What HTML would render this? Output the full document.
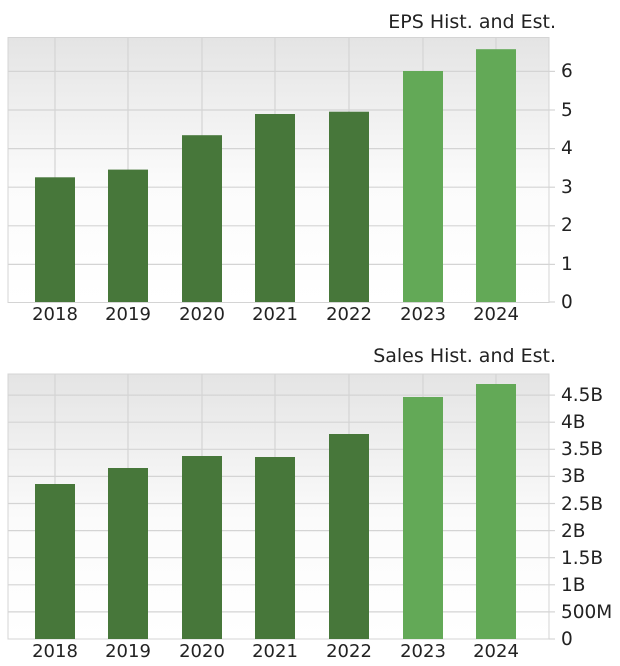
<!DOCTYPE html><html><head><style>body{margin:0;background:#fff}svg{display:block}text{font-family:"DejaVu Sans","Liberation Sans",sans-serif;fill:#222}</style></head><body>
<svg width="620" height="666" xmlns="http://www.w3.org/2000/svg">
<defs><linearGradient id="g" x1="0" y1="0" x2="0" y2="1"><stop offset="0" stop-color="#e4e4e4"/><stop offset="0.55" stop-color="#fbfbfb"/><stop offset="1" stop-color="#fff"/></linearGradient></defs>
<!-- Chart 1 -->
<text x="556" y="28" font-size="19" text-anchor="end">EPS Hist. and Est.</text>
<rect x="8" y="37.5" width="541" height="265" fill="url(#g)" stroke="#d4d4d4"/>
<g stroke="#d4d4d4" stroke-width="1.2">
<line x1="8" x2="549" y1="264.4" y2="264.4"/><line x1="8" x2="549" y1="225.8" y2="225.8"/><line x1="8" x2="549" y1="187.2" y2="187.2"/><line x1="8" x2="549" y1="148.6" y2="148.6"/><line x1="8" x2="549" y1="110" y2="110"/><line x1="8" x2="549" y1="71.4" y2="71.4"/>
<line x1="55" x2="55" y1="37.5" y2="302"/><line x1="128" x2="128" y1="37.5" y2="302"/><line x1="202" x2="202" y1="37.5" y2="302"/><line x1="275" x2="275" y1="37.5" y2="302"/><line x1="349" x2="349" y1="37.5" y2="302"/><line x1="423" x2="423" y1="37.5" y2="302"/><line x1="496" x2="496" y1="37.5" y2="302"/>
<line x1="549" x2="555" y1="302" y2="302"/><line x1="549" x2="555" y1="264.4" y2="264.4"/><line x1="549" x2="555" y1="225.8" y2="225.8"/><line x1="549" x2="555" y1="187.2" y2="187.2"/><line x1="549" x2="555" y1="148.6" y2="148.6"/><line x1="549" x2="555" y1="110" y2="110"/><line x1="549" x2="555" y1="71.4" y2="71.4"/>
</g>
<g fill="#47773a">
<rect x="35" y="177.3" width="40" height="124.7"/><rect x="108" y="169.6" width="40" height="132.4"/><rect x="182" y="135.2" width="40" height="166.8"/><rect x="255" y="114" width="40" height="188"/><rect x="329" y="111.7" width="40" height="190.3"/></g>
<g fill="#63a957"><rect x="403" y="71" width="40" height="231"/><rect x="476" y="49.2" width="40" height="252.8"/></g>
<g font-size="18.5">
<text x="561" y="308">0</text><text x="561" y="270">1</text><text x="561" y="231">2</text><text x="561" y="193">3</text><text x="561" y="154">4</text><text x="561" y="116">5</text><text x="561" y="77">6</text>
</g>
<g font-size="18" text-anchor="middle">
<text x="55" y="320">2018</text><text x="128" y="320">2019</text><text x="202" y="320">2020</text><text x="275" y="320">2021</text><text x="349" y="320">2022</text><text x="423" y="320">2023</text><text x="496" y="320">2024</text>
</g>
<!-- Chart 2 -->
<text x="556" y="362" font-size="19" text-anchor="end">Sales Hist. and Est.</text>
<rect x="8" y="374" width="541" height="265" fill="url(#g)" stroke="#d4d4d4"/>
<g stroke="#d4d4d4" stroke-width="1.2">
<line x1="8" x2="549" y1="611.9" y2="611.9"/><line x1="8" x2="549" y1="584.8" y2="584.8"/><line x1="8" x2="549" y1="557.7" y2="557.7"/><line x1="8" x2="549" y1="530.6" y2="530.6"/><line x1="8" x2="549" y1="503.5" y2="503.5"/><line x1="8" x2="549" y1="476.4" y2="476.4"/><line x1="8" x2="549" y1="449.3" y2="449.3"/><line x1="8" x2="549" y1="422.2" y2="422.2"/><line x1="8" x2="549" y1="395.1" y2="395.1"/>
<line x1="55" x2="55" y1="374" y2="639"/><line x1="128" x2="128" y1="374" y2="639"/><line x1="202" x2="202" y1="374" y2="639"/><line x1="275" x2="275" y1="374" y2="639"/><line x1="349" x2="349" y1="374" y2="639"/><line x1="423" x2="423" y1="374" y2="639"/><line x1="496" x2="496" y1="374" y2="639"/>
<line x1="549" x2="555" y1="639" y2="639"/><line x1="549" x2="555" y1="611.9" y2="611.9"/><line x1="549" x2="555" y1="584.8" y2="584.8"/><line x1="549" x2="555" y1="557.7" y2="557.7"/><line x1="549" x2="555" y1="530.6" y2="530.6"/><line x1="549" x2="555" y1="503.5" y2="503.5"/><line x1="549" x2="555" y1="476.4" y2="476.4"/><line x1="549" x2="555" y1="449.3" y2="449.3"/><line x1="549" x2="555" y1="422.2" y2="422.2"/><line x1="549" x2="555" y1="395.1" y2="395.1"/>
</g>
<g fill="#47773a">
<rect x="35" y="484" width="40" height="155"/><rect x="108" y="468" width="40" height="171"/><rect x="182" y="456" width="40" height="183"/><rect x="255" y="457" width="40" height="182"/><rect x="329" y="434" width="40" height="205"/></g>
<g fill="#63a957"><rect x="403" y="397" width="40" height="242"/><rect x="476" y="384" width="40" height="255"/></g>
<g font-size="18.5">
<text x="561" y="645">0</text><text x="561" y="618">500M</text><text x="561" y="591">1B</text><text x="561" y="564">1.5B</text><text x="561" y="537">2B</text><text x="561" y="510">2.5B</text><text x="561" y="482">3B</text><text x="561" y="455">3.5B</text><text x="561" y="428">4B</text><text x="561" y="401">4.5B</text>
</g>
<g font-size="18" text-anchor="middle">
<text x="55" y="657">2018</text><text x="128" y="657">2019</text><text x="202" y="657">2020</text><text x="275" y="657">2021</text><text x="349" y="657">2022</text><text x="423" y="657">2023</text><text x="496" y="657">2024</text>
</g>
</svg>
</body></html>
